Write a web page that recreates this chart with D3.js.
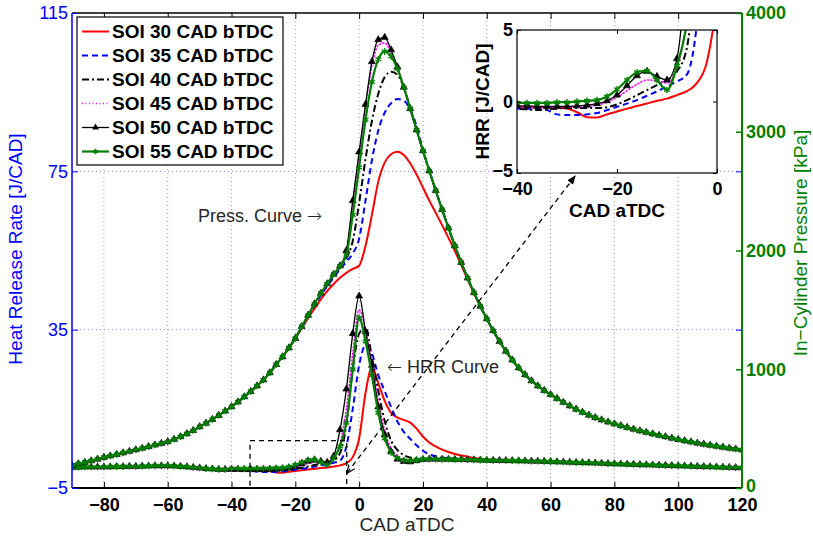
<!DOCTYPE html>
<html>
<head>
<meta charset="utf-8">
<script src="https://cdn.jsdelivr.net/npm/d3@7"></script>
<style>
  body { margin: 0; background: #fff; }
  svg { display: block; font-family: "Liberation Sans", Arial, Helvetica, sans-serif; }
</style>
</head>
<body>
<svg id="chart" width="813" height="537"></svg>
<script>
// ---- sampling grid (crank angle, degrees aTDC) ----
const CAD_STEP = 2;

// ---- labels and ticks ----
const seriesNames = ["SOI 30 CAD bTDC", "SOI 35 CAD bTDC", "SOI 40 CAD bTDC",
                     "SOI 45 CAD bTDC", "SOI 50 CAD bTDC", "SOI 55 CAD bTDC"];
const cadTicks = [-80, -60, -40, -20, 0, 20, 40, 60, 80, 100, 120];
const hrrTicks = [-5, 35, 75, 115];
const pressureTicks = [0, 1000, 2000, 3000, 4000];
const insetCadTicks = [-40, -20, 0];
const insetHrrTicks = [-5, 0, 5];

// ---- in-cylinder pressure [kPa] ----
// compression stroke, shared by all cases: -90 .. -20 CAD
const pressureCompression = [192, 204, 216, 229, 243, 258, 270, 283, 296, 309,
  322, 335, 348, 362, 376, 390, 410, 432, 457, 485,
  516, 546, 578, 612, 648, 685, 725, 768, 813, 860,
  910, 970, 1040, 1105, 1180, 1260];
// expansion stroke, shared by all cases: 42 .. 120 CAD
const pressureExpansion = [1325, 1235, 1152, 1078, 1012, 954, 903, 860, 822, 787,
  754, 722, 692, 664, 638, 614, 593, 574, 556, 540,
  525, 510, 496, 482, 469, 456, 444, 432, 420, 409,
  398, 388, 378, 369, 360, 352, 344, 336, 328, 320];
// combustion window per case: -18 .. 40 CAD
const pressureSOI30 = [1345, 1430, 1510, 1588, 1658, 1718, 1770, 1812, 1845, 1872,
  2040, 2300, 2580, 2740, 2810, 2832, 2805, 2735, 2640, 2530,
  2420, 2318, 2214, 2106, 1995, 1878, 1755, 1640, 1530, 1425];
const pressureSOI35 = [1355, 1447, 1538, 1622, 1700, 1772, 1840, 1905, 1975, 2100,
  2420, 2760, 3010, 3160, 3240, 3275, 3262, 3185, 3050, 2845,
  2672, 2505, 2345, 2190, 2040, 1900, 1768, 1645, 1530, 1425];
const pressureSOI40 = [1358, 1452, 1545, 1633, 1712, 1790, 1858, 1935, 2080, 2400,
  2770, 3090, 3320, 3460, 3505, 3480, 3372, 3200, 3015, 2840,
  2670, 2505, 2345, 2190, 2040, 1900, 1768, 1645, 1530, 1425];
const pressureSOI45 = [1360, 1455, 1550, 1640, 1720, 1800, 1870, 1990, 2395, 2805,
  3205, 3555, 3728, 3748, 3668, 3538, 3375, 3195, 3015, 2840,
  2670, 2505, 2345, 2190, 2040, 1900, 1768, 1645, 1530, 1425];
const pressureSOI50 = [1360, 1455, 1550, 1640, 1720, 1800, 1870, 2000, 2420, 2830,
  3230, 3590, 3775, 3795, 3690, 3545, 3375, 3195, 3015, 2840,
  2670, 2505, 2345, 2190, 2040, 1900, 1768, 1645, 1530, 1425];
const pressureSOI55 = [1360, 1455, 1550, 1640, 1720, 1800, 1870, 1965, 2300, 2700,
  3100, 3420, 3610, 3675, 3635, 3530, 3375, 3195, 3015, 2840,
  2670, 2505, 2345, 2190, 2040, 1900, 1768, 1645, 1530, 1425];

// ---- heat release rate [J/CAD] ----
// shared early part: -90 .. -42 CAD
const hrrEarly = [0.2, 0.25, 0.3, 0.3, 0.3, 0.3, 0.35, 0.4, 0.4, 0.45,
  0.45, 0.5, 0.55, 0.6, 0.6, 0.6, 0.55, 0.45, 0.35, 0.2,
  0.05, -0.1, -0.2, -0.3, -0.3];
// shared late part: 42 .. 120 CAD
const hrrLate = [1.98, 1.95, 1.93, 1.9, 1.86, 1.82, 1.78, 1.75, 1.72, 1.66,
  1.6, 1.56, 1.5, 1.45, 1.4, 1.36, 1.3, 1.24, 1.16, 1.1,
  1.05, 1.0, 0.95, 0.9, 0.86, 0.8, 0.76, 0.7, 0.65, 0.6,
  0.56, 0.5, 0.45, 0.4, 0.36, 0.3, 0.25, 0.2, 0.15, 0.1];
// combustion window per case: -40 .. 40 CAD
const hrrSOI30 = [-0.4, -0.4, -0.4, -0.4, -0.42, -0.5, -0.75, -1.1, -1.12, -0.9,
  -0.7, -0.5, -0.32, -0.14, 0.05, 0.2, 0.45, 0.72, 1.3, 2.8,
  7.5, 19, 25.5, 21.5, 17, 14, 12.8, 12.2, 11.5, 10,
  8, 6.5, 5.5, 4.7, 4.1, 3.6, 3.2, 2.9, 2.6, 2.4, 2.2];
const hrrSOI35 = [-0.5, -0.5, -0.5, -0.6, -0.9, -0.95, -0.95, -0.9, -0.8, -0.6,
  -0.37, -0.15, 0.1, 0.4, 0.7, 1.05, 1.4, 1.9, 5.5, 15,
  26, 31, 29, 23.5, 19.5, 15.5, 11.8, 9.2, 7.4, 5.8,
  4.4, 3.5, 3.0, 2.7, 2.5, 2.4, 2.3, 2.2, 2.15, 2.1, 2.05];
const hrrSOI40 = [-0.5, -0.55, -0.6, -0.55, -0.5, -0.45, -0.45, -0.45, -0.45, -0.4,
  -0.2, 0.1, 0.45, 0.8, 1.15, 1.5, 2.1, 3.8, 11, 25,
  34, 35.5, 28, 19.5, 12, 7, 4.6, 3.3, 2.7, 2.4,
  2.3, 2.3, 2.3, 2.25, 2.25, 2.2, 2.2, 2.15, 2.1, 2.05, 2.0];
const hrrSOI45 = [-0.4, -0.4, -0.4, -0.4, -0.4, -0.4, -0.4, -0.35, -0.25, -0.05,
  0.3, 0.75, 1.2, 1.5, 1.45, 1.3, 2.4, 6, 15, 29,
  40, 35, 26.5, 17, 9.5, 5, 3.0, 2.2, 2.0, 2.1,
  2.2, 2.3, 2.3, 2.25, 2.25, 2.2, 2.2, 2.15, 2.1, 2.05, 2.0];
const hrrSOI50 = [-0.3, -0.3, -0.35, -0.35, -0.35, -0.35, -0.3, -0.25, -0.15, 0.05,
  0.45, 1.1, 1.8, 2.1, 1.75, 1.5, 3.0, 9.7, 20, 34,
  43.5, 34.5, 26, 15.5, 8.5, 4.2, 2.3, 1.7, 1.6, 1.9,
  2.2, 2.3, 2.3, 2.25, 2.25, 2.2, 2.2, 2.15, 2.1, 2.05, 2.0];
const hrrSOI55 = [-0.1, -0.1, -0.1, -0.1, -0.05, -0.05, 0.0, 0.05, 0.1, 0.35,
  0.85, 1.5, 2.05, 2.15, 1.5, 0.8, 2.5, 5.5, 11.5, 25,
  38, 32, 23.5, 14, 7.5, 4.0, 2.6, 2.0, 1.9, 2.1,
  2.3, 2.3, 2.3, 2.25, 2.25, 2.2, 2.2, 2.15, 2.1, 2.05, 2.0];

// ---- styling per case ----
const styles = [
  { color: "#ff0000", dash: null,        width: 2.0, marker: null },
  { color: "#0000ff", dash: "6,4",       width: 2.0, marker: null },
  { color: "#000000", dash: "7,3,2,3",   width: 2.0, marker: null },
  { color: "#ff00ff", dash: "1,2.5",     width: 1.6, marker: null },
  { color: "#000000", dash: null,        width: 1.3, marker: "triangle" },
  { color: "#008000", dash: null,        width: 2.2, marker: "asterisk" }
];
const pressureWindows = [pressureSOI30, pressureSOI35, pressureSOI40, pressureSOI45, pressureSOI50, pressureSOI55];
const hrrWindows = [hrrSOI30, hrrSOI35, hrrSOI40, hrrSOI45, hrrSOI50, hrrSOI55];

const atAngles = (start, values) => values.map((v, i) => ({ cad: start + i * CAD_STEP, v }));

const series = seriesNames.map((name, i) => ({
  name,
  ...styles[i],
  pressure: [...atAngles(-90, pressureCompression), ...atAngles(-18, pressureWindows[i]), ...atAngles(42, pressureExpansion)],
  hrr: [...atAngles(-90, hrrEarly), ...atAngles(-40, hrrWindows[i]), ...atAngles(42, hrrLate)]
}));

// ---- layout ----
const plot = { left: 72, right: 742, top: 13, bottom: 488 };
const insetBox = { left: 517, right: 717, top: 30, bottom: 173 };
const FONT = 18;
const ARROW_FONT = "DejaVu Sans, Liberation Sans, sans-serif";

const svg = d3.select("#chart");
const x = d3.scaleLinear([-90, 120], [plot.left, plot.right]);
const yH = d3.scaleLinear([-5, 115], [plot.bottom, plot.top]);
const yP = d3.scaleLinear([0, 4000], [plot.bottom, plot.top]);
const ix = d3.scaleLinear([-40, 0], [insetBox.left, insetBox.right]);
const iy = d3.scaleLinear([-5, 5], [insetBox.bottom, insetBox.top]);

const defs = svg.append("defs");
defs.append("clipPath").attr("id", "clip-main").append("rect")
  .attr("x", plot.left).attr("y", plot.top)
  .attr("width", plot.right - plot.left).attr("height", plot.bottom - plot.top);
defs.append("clipPath").attr("id", "clip-inset").append("rect")
  .attr("x", insetBox.left).attr("y", insetBox.top)
  .attr("width", insetBox.right - insetBox.left).attr("height", insetBox.bottom - insetBox.top);
defs.append("marker").attr("id", "head-filled")
  .attr("viewBox", "0 0 10 10").attr("refX", 9).attr("refY", 5)
  .attr("markerWidth", 9).attr("markerHeight", 9).attr("markerUnits", "userSpaceOnUse")
  .attr("orient", "auto")
  .append("path").attr("d", "M0,1 L10,5 L0,9 Z").attr("fill", "#000");
defs.append("marker").attr("id", "head-open")
  .attr("viewBox", "0 0 10 10").attr("refX", 9).attr("refY", 5)
  .attr("markerWidth", 9).attr("markerHeight", 9).attr("markerUnits", "userSpaceOnUse")
  .attr("orient", "auto")
  .append("path").attr("d", "M0,1 L10,5 L0,9").attr("fill", "none").attr("stroke", "#000").attr("stroke-width", 1.4);

// ---- grid ----
const grid = svg.append("g");
grid.selectAll("line.vg").data(cadTicks.filter(t => t < 120)).join("line")
  .attr("x1", d => x(d)).attr("x2", d => x(d))
  .attr("y1", plot.top).attr("y2", plot.bottom)
  .attr("stroke", "#9a9a9a").attr("stroke-width", 1).attr("stroke-dasharray", "1,3");
grid.selectAll("line.hg").data(hrrTicks.filter(t => t > -5 && t < 115)).join("line")
  .attr("x1", plot.left).attr("x2", plot.right)
  .attr("y1", d => yH(d)).attr("y2", d => yH(d))
  .attr("stroke", "#7f7fff").attr("stroke-width", 1).attr("stroke-dasharray", "1,3");

// ---- curves ----
function drawCurves(g, sx, sy, key) {
  const line = d3.line().x(d => sx(d.cad)).y(d => sy(d.v)).curve(d3.curveMonotoneX);
  series.forEach(s => {
    g.append("path").datum(s[key])
      .attr("d", line).attr("fill", "none")
      .attr("stroke", s.color).attr("stroke-width", s.width)
      .attr("stroke-dasharray", s.dash)
      .attr("stroke-linecap", s.dash === "1,2.5" ? "round" : "butt");
    if (s.marker === "triangle") {
      g.append("g").selectAll("path").data(s[key]).join("path")
        .attr("transform", d => `translate(${sx(d.cad)},${sy(d.v)})`)
        .attr("d", d3.symbol(d3.symbolTriangle, 22))
        .attr("fill", "#000").attr("stroke", "#000").attr("stroke-width", 0.6);
    } else if (s.marker === "asterisk") {
      g.append("g").selectAll("path").data(s[key]).join("path")
        .attr("transform", d => `translate(${sx(d.cad)},${sy(d.v)})`)
        .attr("d", d3.symbol(d3.symbolAsterisk, 30))
        .attr("fill", "none").attr("stroke", s.color).attr("stroke-width", 1.4);
    }
  });
}
const main = svg.append("g").attr("clip-path", "url(#clip-main)");
drawCurves(main.append("g"), x, yH, "hrr");
drawCurves(main.append("g"), x, yP, "pressure");

// ---- zoom window and arrow ----
const zoomWindow = { cad0: -34.2, cad1: -3.9, hrr0: -5, hrr1: 6.95 };
svg.append("rect")
  .attr("x", x(zoomWindow.cad0)).attr("y", yH(zoomWindow.hrr1))
  .attr("width", x(zoomWindow.cad1) - x(zoomWindow.cad0))
  .attr("height", yH(zoomWindow.hrr0) - yH(zoomWindow.hrr1))
  .attr("fill", "none").attr("stroke", "#000").attr("stroke-width", 1.3).attr("stroke-dasharray", "5,4");
const arrowEnds = { from: [-3.8, -1.2], to: [67.7, 73.8] };
svg.append("line")
  .attr("x1", x(arrowEnds.from[0])).attr("y1", yH(arrowEnds.from[1]))
  .attr("x2", x(arrowEnds.to[0])).attr("y2", yH(arrowEnds.to[1]))
  .attr("stroke", "#000").attr("stroke-width", 1.3).attr("stroke-dasharray", "5,4")
  .attr("marker-end", "url(#head-filled)");
// small open head at the lower end
svg.append("line")
  .attr("x1", x(arrowEnds.from[0]) + 6).attr("y1", yH(arrowEnds.from[1]) - 7.9)
  .attr("x2", x(arrowEnds.from[0])).attr("y2", yH(arrowEnds.from[1]))
  .attr("stroke", "none").attr("marker-end", "url(#head-open)");

// ---- annotation texts ----
const pressNote = svg.append("text").attr("x", 198).attr("y", 222)
  .attr("font-size", FONT).attr("fill", "#262626");
pressNote.append("tspan").text("Press. Curve ");
pressNote.append("tspan").attr("font-family", ARROW_FONT).attr("font-weight", 200).text("\u2192");
const hrrNote = svg.append("text").attr("x", 387).attr("y", 373)
  .attr("font-size", FONT).attr("fill", "#262626");
hrrNote.append("tspan").attr("font-family", ARROW_FONT).attr("font-weight", 200).text("\u2190");
hrrNote.append("tspan").text(" HRR Curve");

// ---- axes ----
function styleAxis(g, color, weight) {
  g.selectAll(".domain").remove();
  g.selectAll(".tick line").attr("stroke", color).attr("stroke-width", 1);
  g.selectAll(".tick text").attr("fill", color).attr("font-size", FONT)
    .attr("font-weight", weight).attr("font-family", "Liberation Sans, Arial, sans-serif");
}
// top border ticks
const gTop = svg.append("g").attr("transform", `translate(0,${plot.top})`)
  .call(d3.axisTop(x).tickValues(cadTicks).tickSizeInner(-6).tickSizeOuter(0).tickFormat(""));
styleAxis(gTop, "#000", "normal");
svg.append("line").attr("x1", plot.left).attr("x2", plot.right).attr("y1", plot.top).attr("y2", plot.top)
  .attr("stroke", "#000").attr("stroke-width", 1.5);
// bottom axis
const gBottom = svg.append("g").attr("transform", `translate(0,${plot.bottom})`)
  .call(d3.axisBottom(x).tickValues(cadTicks).tickSizeInner(-6).tickSizeOuter(0).tickPadding(10));
styleAxis(gBottom, "#000", "bold");
svg.append("line").attr("x1", plot.left).attr("x2", plot.right).attr("y1", plot.bottom).attr("y2", plot.bottom)
  .attr("stroke", "#000").attr("stroke-width", 2);
// left (heat release) axis
const gLeft = svg.append("g").attr("transform", `translate(${plot.left},0)`)
  .call(d3.axisLeft(yH).tickValues(hrrTicks).tickSizeInner(-6).tickSizeOuter(0).tickPadding(4));
styleAxis(gLeft, "#0000ff", "normal");
svg.append("line").attr("x1", plot.left).attr("x2", plot.left).attr("y1", plot.top).attr("y2", plot.bottom)
  .attr("stroke", "#0000ff").attr("stroke-width", 1.5);
// mirrored heat release ticks on the right edge
const gLeftMirror = svg.append("g").attr("transform", `translate(${plot.right},0)`)
  .call(d3.axisRight(yH).tickValues(hrrTicks).tickSizeInner(-6).tickSizeOuter(0).tickFormat(""));
styleAxis(gLeftMirror, "#0000ff", "normal");
// right (pressure) axis
const gRight = svg.append("g").attr("transform", `translate(${plot.right},0)`)
  .call(d3.axisRight(yP).tickValues(pressureTicks).tickFormat(d3.format("d"))
    .tickSizeInner(-6).tickSizeOuter(0).tickPadding(4));
styleAxis(gRight, "#008000", "bold");
gRight.selectAll(".tick line").attr("stroke-width", 1.5);
gRight.selectAll(".tick text").filter(d => d === 0).attr("dy", "0.2em");
svg.append("line").attr("x1", plot.right).attr("x2", plot.right).attr("y1", plot.top).attr("y2", plot.bottom)
  .attr("stroke", "#008000").attr("stroke-width", 2);

// axis titles
svg.append("text").attr("transform", "translate(22,249) rotate(-90)")
  .attr("text-anchor", "middle").attr("font-size", 19).attr("fill", "#0000ff")
  .text("Heat Release Rate [J/CAD]");
svg.append("text").attr("transform", "translate(807,243) rotate(-90)")
  .attr("text-anchor", "middle").attr("font-size", 19).attr("fill", "#008000")
  .text("In\u2212Cylinder Pressure [kPa]");
svg.append("text").attr("x", 407).attr("y", 531)
  .attr("text-anchor", "middle").attr("font-size", 19).attr("fill", "#262626")
  .text("CAD aTDC");

// ---- legend ----
const legend = svg.append("g");
legend.append("rect").attr("x", 77).attr("y", 17).attr("width", 206).attr("height", 148)
  .attr("fill", "#fff").attr("stroke", "#000").attr("stroke-width", 1.2);
series.forEach((s, i) => {
  const cy = 31.5 + i * 24;
  legend.append("line").attr("x1", 82).attr("x2", 109).attr("y1", cy).attr("y2", cy)
    .attr("stroke", s.color).attr("stroke-width", s.width).attr("stroke-dasharray", s.dash);
  if (s.marker === "triangle") {
    legend.append("path").attr("transform", `translate(95.5,${cy})`)
      .attr("d", d3.symbol(d3.symbolTriangle, 20)).attr("fill", "#000");
  } else if (s.marker === "asterisk") {
    legend.append("path").attr("transform", `translate(95.5,${cy})`)
      .attr("d", d3.symbol(d3.symbolAsterisk, 20)).attr("fill", "none")
      .attr("stroke", s.color).attr("stroke-width", 1.4);
  }
  legend.append("text").attr("x", 112).attr("y", cy).attr("dy", "0.35em")
    .attr("font-size", 19).attr("font-weight", "bold").attr("fill", "#000").text(s.name);
});

// ---- inset: close-up of the heat release before ignition ----
const inset = svg.append("g");
inset.append("rect").attr("x", insetBox.left).attr("y", insetBox.top)
  .attr("width", insetBox.right - insetBox.left).attr("height", insetBox.bottom - insetBox.top)
  .attr("fill", "#fff");
drawCurves(inset.append("g").attr("clip-path", "url(#clip-inset)"), ix, iy, "hrr");
inset.append("rect").attr("x", insetBox.left).attr("y", insetBox.top)
  .attr("width", insetBox.right - insetBox.left).attr("height", insetBox.bottom - insetBox.top)
  .attr("fill", "none").attr("stroke", "#000").attr("stroke-width", 1.2);
const giB = inset.append("g").attr("transform", `translate(0,${insetBox.bottom})`)
  .call(d3.axisBottom(ix).tickValues(insetCadTicks).tickSizeInner(-4).tickSizeOuter(0).tickPadding(9));
styleAxis(giB, "#000", "bold");
const giT = inset.append("g").attr("transform", `translate(0,${insetBox.top})`)
  .call(d3.axisTop(ix).tickValues(insetCadTicks).tickSizeInner(-4).tickSizeOuter(0).tickFormat(""));
styleAxis(giT, "#000", "normal");
const giL = inset.append("g").attr("transform", `translate(${insetBox.left},0)`)
  .call(d3.axisLeft(iy).tickValues(insetHrrTicks).tickSizeInner(-4).tickSizeOuter(0).tickPadding(4));
styleAxis(giL, "#000", "bold");
giL.selectAll(".tick text").filter(d => d === -5).attr("dy", "0.2em");
const giR = inset.append("g").attr("transform", `translate(${insetBox.right},0)`)
  .call(d3.axisRight(iy).tickValues(insetHrrTicks).tickSizeInner(-4).tickSizeOuter(0).tickFormat(""));
styleAxis(giR, "#000", "normal");
inset.append("text").attr("transform", `translate(489,${(insetBox.top + insetBox.bottom) / 2}) rotate(-90)`)
  .attr("text-anchor", "middle").attr("font-size", 19).attr("font-weight", "bold").attr("fill", "#000")
  .text("HRR [J/CAD]");
inset.append("text").attr("x", 617).attr("y", 217)
  .attr("text-anchor", "middle").attr("font-size", 19).attr("font-weight", "bold").attr("fill", "#000")
  .text("CAD aTDC");
</script>
</body>
</html>
